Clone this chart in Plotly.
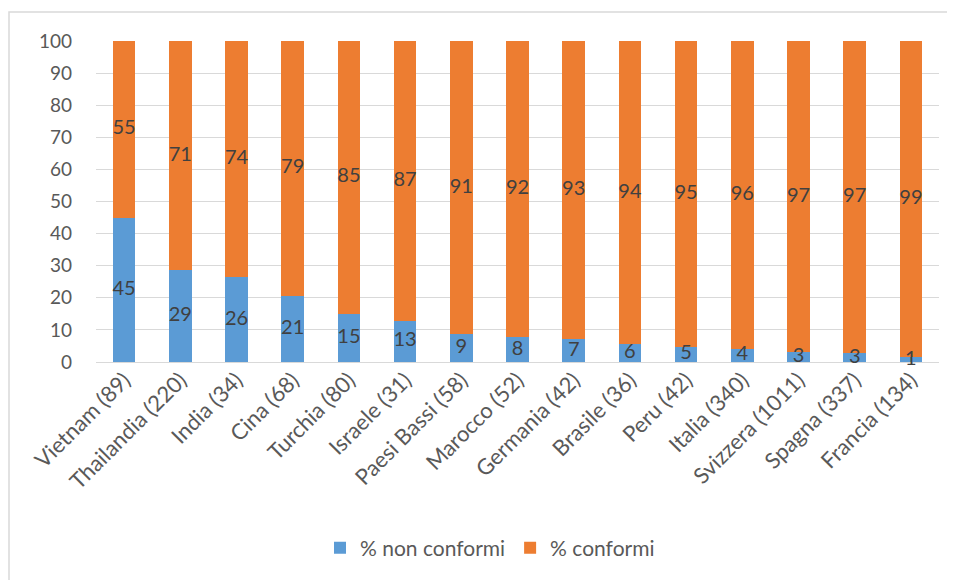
import plotly.graph_objects as go

categories = ["Vietnam (89)", "Thailandia (220)", "India (34)", "Cina (68)", "Turchia (80)",
              "Israele (31)", "Paesi Bassi (58)", "Marocco (52)", "Germania (42)", "Brasile (36)",
              "Peru (42)", "Italia (340)", "Svizzera (1011)", "Spagna (337)", "Francia (134)"]
non_conformi = [44.9, 28.6, 26.4, 20.6, 15.0, 12.9, 8.6, 7.7, 7.1, 5.6, 4.8, 4.1, 3.0, 2.8, 1.5]
conformi = [55.1, 71.4, 73.6, 79.4, 85.0, 87.1, 91.4, 92.3, 92.9, 94.4, 95.2, 95.9, 97.0, 97.2, 98.5]
non_conformi_labels = ["45", "29", "26", "21", "15", "13", "9", "8", "7", "6", "5", "4", "3", "3", "1"]
conformi_labels = ["55", "71", "74", "79", "85", "87", "91", "92", "93", "94", "95", "96", "97", "97", "99"]

FONT = "Lato"
TXT = "#404040"
AX = "#595959"

fig = go.Figure()
fig.add_trace(go.Bar(
    x=categories, y=non_conformi, name="% non conformi",
    marker=dict(color="#5B9BD5", line=dict(width=0)),
))
fig.add_trace(go.Bar(
    x=categories, y=conformi, name="% conformi",
    marker=dict(color="#ED7D31", line=dict(width=0)),
))

# data labels centred in each stacked segment
mid_non = [v / 2 for v in non_conformi]
mid_conf = [n + c / 2 for n, c in zip(non_conformi, conformi)]
fig.add_trace(go.Scatter(
    x=categories, y=mid_non, mode="text", text=non_conformi_labels,
    textposition="middle center", textfont=dict(family=FONT, size=20, color=TXT),
    showlegend=False, hoverinfo="skip", cliponaxis=False,
))
fig.add_trace(go.Scatter(
    x=categories, y=mid_conf, mode="text", text=conformi_labels,
    textposition="middle center", textfont=dict(family=FONT, size=20, color=TXT),
    showlegend=False, hoverinfo="skip", cliponaxis=False,
))

# page body has an 8px margin: plot area target is x 96..939, y 41..362 in the window
fig.update_layout(
    barmode="stack", bargap=0.6,
    width=947, height=572,
    margin=dict(l=88, r=16, t=33, b=218, autoexpand=False),
    paper_bgcolor="white", plot_bgcolor="white",
    font=dict(family=FONT, size=18, color=AX),
    showlegend=True,
    legend=dict(orientation="h", x=(490 - 96) / 843, xanchor="center", y=(362 - 548) / 321, yanchor="middle",
                font=dict(family=FONT, size=21, color=AX), itemwidth=30,
                traceorder="normal"),
    xaxis=dict(tickangle=-45, showgrid=False, showline=False, ticks="", automargin=False,
               range=[-0.5, len(categories) - 0.5],
               tickfont=dict(family=FONT, size=22, color=AX)),
    yaxis=dict(range=[0, 100], dtick=10, showgrid=True, gridcolor="#d9d9d9", gridwidth=1,
               zeroline=True, zerolinecolor="#d9d9d9", zerolinewidth=1, automargin=False,
               showline=False, ticks="", ticklabelstandoff=23,
               tickfont=dict(family=FONT, size=19, color=AX)),
    shapes=[dict(type="rect", xref="paper", yref="paper",
                 x0=(9 - 96) / 843, x1=(970 - 96) / 843,
                 y0=(362 - 600) / 321, y1=(362 - 12) / 321,
                 line=dict(color="#d9d9d9", width=1.5), layer="below")],
)

fig.write_html("out.html")
